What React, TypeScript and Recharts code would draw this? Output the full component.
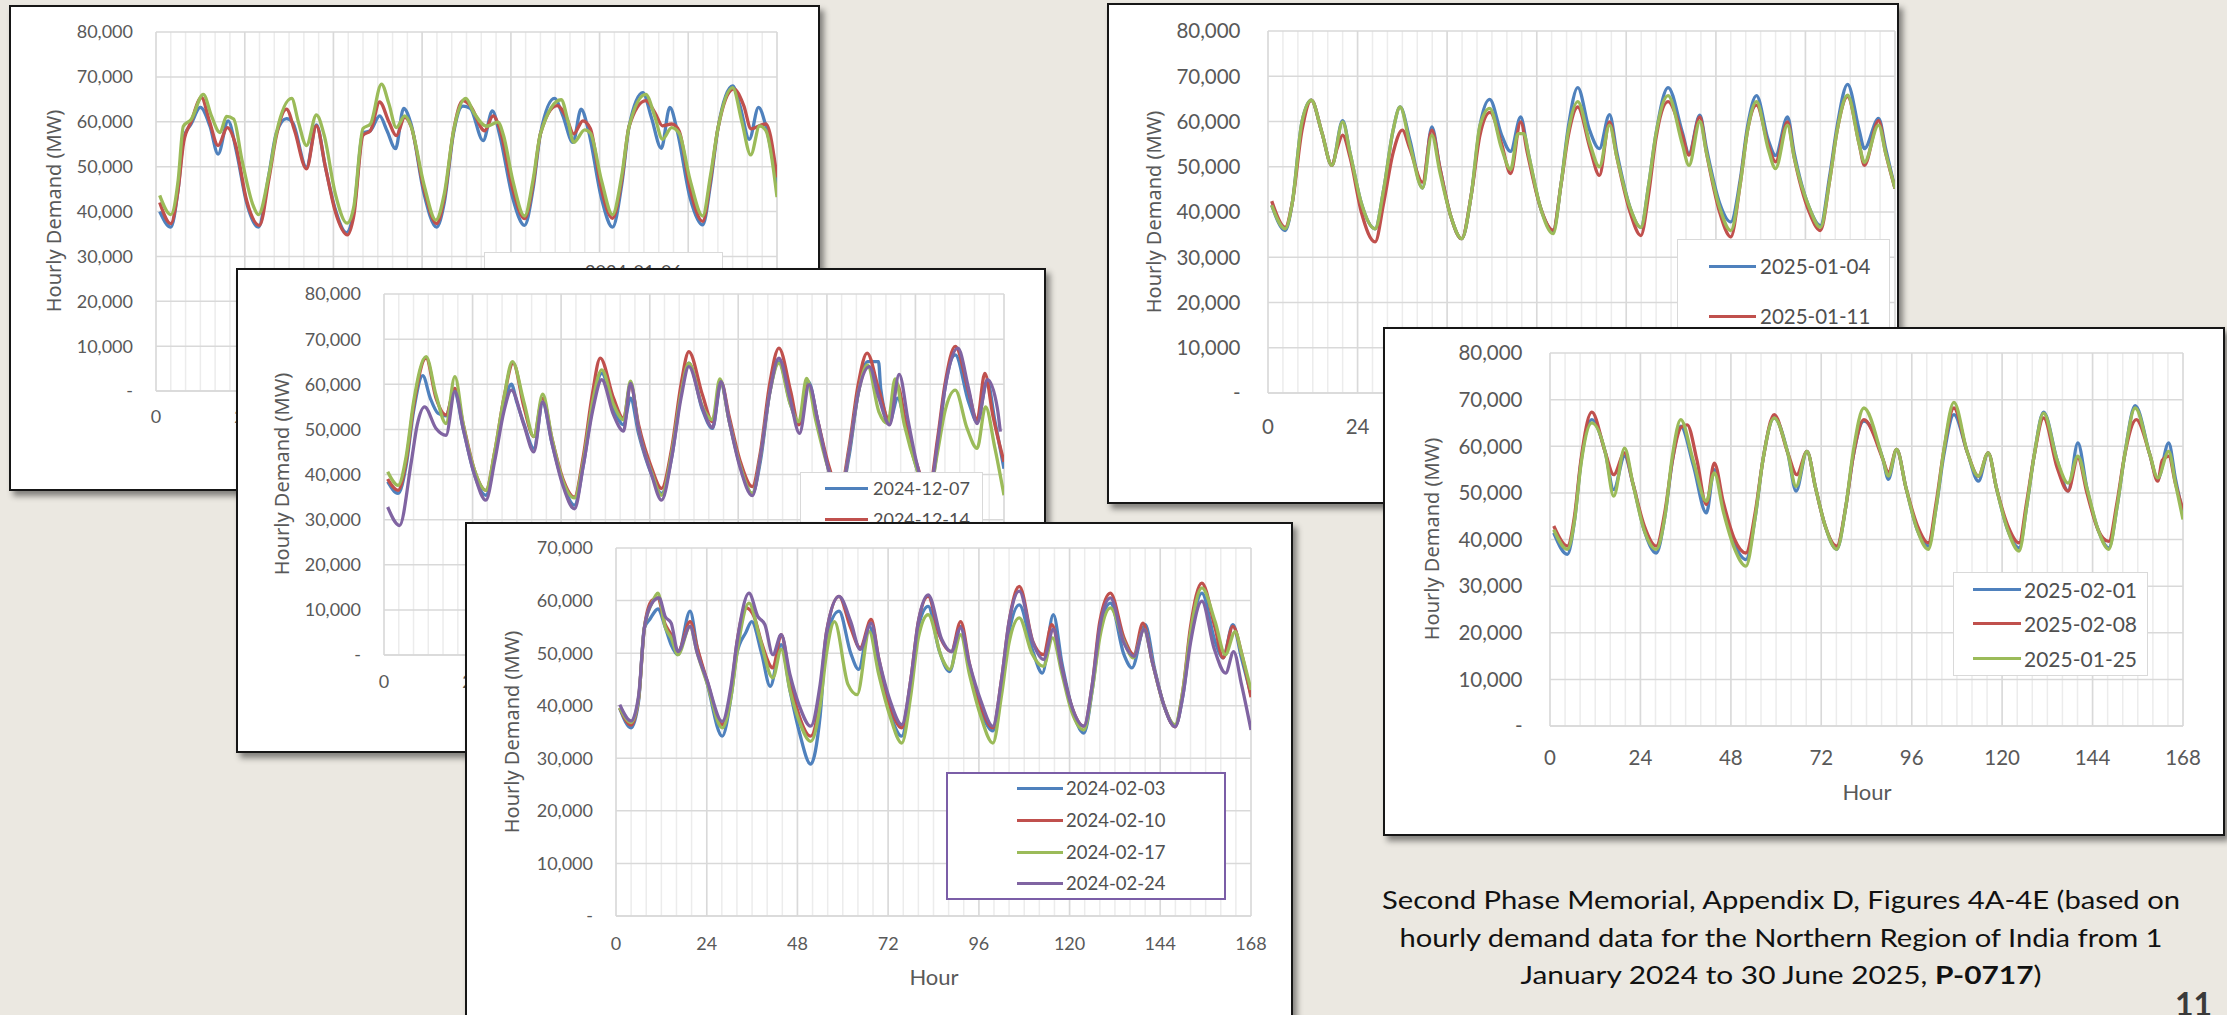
import React from 'react';
import { LineChart, Line, XAxis, YAxis, CartesianGrid } from 'recharts';

// [hour, demand in thousand MW]
type Pt = [number, number];

const BLUE = '#4f81bd';
const RED = '#c0504d';
const GREEN = '#9bbb59';
const PURPLE = '#8064a2';

const HOUR_TICKS = [0, 24, 48, 72, 96, 120, 144, 168];
const HOUR_MINOR = [0, 4, 8, 12, 16, 20, 24, 28, 32, 36, 40, 44, 48, 52, 56, 60, 64, 68, 72, 76, 80, 84, 88, 92, 96, 100, 104, 108, 112, 116, 120, 124, 128, 132, 136, 140, 144, 148, 152, 156, 160, 164, 168];
const Y_TICKS_80 = [0, 10000, 20000, 30000, 40000, 50000, 60000, 70000, 80000];
const Y_TICKS_70 = [0, 10000, 20000, 30000, 40000, 50000, 60000, 70000];

// ---------- Figure 4A: January 2024 weeks ----------
const w20240106: Pt[] = [
  [1, 40], [4, 36.5], [6, 45], [7.5, 56.5], [9.5, 59.5], [12, 63.2], [14.6, 59], [16.8, 52.8], [19.5, 60.2], [21.8, 53.2], [24.5, 42], [27.7, 36.5],
  [30.5, 48], [32.6, 57.6], [35.3, 60.7], [37, 59.8], [40.7, 49.9], [43.4, 59.3], [45.8, 50], [48.5, 40.5], [51.5, 35.3],
  [53.5, 40], [56, 57.5], [58, 58], [60.5, 61.3], [62.5, 58], [64.8, 54], [67, 63], [69, 59.5], [72.5, 44], [75.9, 36.5],
  [78, 42], [80.5, 57.5], [83, 63.5], [85, 63], [88.5, 55.8], [91, 62.4], [93, 57], [96.5, 43], [99.7, 36.9],
  [102, 45], [104, 57.3], [107.8, 65.2], [110, 61.5], [112.8, 55.4], [115, 62.8], [117, 58], [120.5, 43], [123.5, 36.5],
  [126, 46], [128, 59], [131.7, 66.5], [134, 61], [136.7, 54.1], [139, 63.2], [141, 58], [144.5, 43], [147.9, 37],
  [150, 46], [152, 58.4], [156, 68], [158, 63.5], [160.5, 56.1], [163, 63.2], [165, 59], [168, 46.1],
];
const w20240113: Pt[] = [
  [1, 42], [4, 37.3], [6, 45], [7.5, 55.5], [9.5, 60], [12.3, 65.4], [14.5, 60], [16.8, 54.7], [19.3, 58.7], [21.5, 55], [24.5, 42.5], [28, 36.9],
  [30.5, 47], [32.6, 57], [35.3, 62.8], [37.5, 58], [40.7, 49.5], [43.4, 59.1], [45.8, 50], [48.5, 40], [51.8, 34.8],
  [53.5, 39], [56, 57], [58, 58], [60.5, 64.4], [63, 60], [65, 56.9], [67.3, 61], [69, 59], [72.5, 45], [75.9, 37.3],
  [78, 43], [80.5, 58], [83, 64.7], [85, 63.6], [88.9, 58], [91.2, 61.3], [93, 58.5], [96.5, 45], [99.7, 38.4],
  [102, 46], [104, 57.3], [108.5, 63.6], [111, 61], [113, 57.3], [115.5, 60.2], [117.5, 58.5], [120.5, 45], [123.5, 38.5],
  [126, 47], [128, 59], [132.5, 64.7], [135, 62], [137, 59.1], [139.5, 59.5], [141.5, 58], [144.5, 45], [147.9, 37.8],
  [150, 47], [152, 58.4], [156.3, 67.3], [159, 63.6], [161, 58.4], [163.5, 59.2], [165, 59.5], [168, 47.6],
];
const w20240120: Pt[] = [
  [1, 43.6], [4, 39.3], [6, 47], [7.4, 59], [9.5, 60.5], [12.8, 66.1], [15, 61.3], [17.3, 57.6], [19.1, 61.2], [21, 60.6], [23.2, 51.7], [26.3, 41.3], [27.7, 39.3],
  [30.5, 48], [32.6, 57.6], [36.7, 65.2], [38.5, 60], [40.7, 54.7], [43.4, 61.5], [45.5, 57], [48.5, 44], [51.7, 37.4],
  [53.5, 41], [56, 58.5], [58, 59.5], [61, 68.4], [63, 64], [65, 58.7], [67.3, 61.3], [69, 59], [72.5, 46], [75.7, 38.1],
  [78, 44], [80.5, 58], [83.8, 65.2], [86, 62], [89.4, 59], [92.5, 59.9], [94, 57], [96.5, 47], [99.7, 39],
  [102, 47], [104, 57.3], [109.6, 64.9], [111.5, 60], [113, 55.4], [116, 58.2], [117.5, 57.5], [120.5, 47], [123.5, 39.3],
  [126, 48], [128, 59], [132.5, 66.1], [135, 61], [137, 56.1], [139.5, 58.7], [141.5, 57.5], [144.5, 47], [147.9, 39],
  [150, 48], [152, 58.4], [156, 67.6], [158.5, 60], [160.9, 52.6], [163.3, 59.1], [165, 58], [168, 43.2],
];

// ---------- Figure 4B: December 2024 weeks ----------
const w20241207: Pt[] = [
  [1, 38.4], [3.8, 35.8], [6, 42], [8, 54], [10.5, 61.9], [12.5, 57], [14.6, 53.6], [16.8, 53], [19, 58.4], [21.5, 50], [24.5, 40], [27.6, 35.4],
  [30, 44], [32.5, 55], [34.5, 60], [36, 56], [37.9, 51.3], [40.6, 45.8], [43, 55.8], [45.5, 47], [48.5, 38], [51.6, 33.2],
  [54, 42], [56.5, 55], [59, 62.4], [62.2, 54.7], [64.9, 51], [66.8, 56.9], [69, 49], [72.5, 40], [75.2, 35.8],
  [78, 44], [80.5, 58], [82.6, 64.7], [86.3, 54.3], [89, 50.2], [91.3, 60.2], [93.5, 52], [96.5, 42], [99.8, 35.8],
  [102, 43], [104.5, 58], [107, 65], [110.2, 55.4], [112.4, 51.3], [115, 60.6], [117.5, 52], [120.5, 41], [123.5, 35.3],
  [126, 44], [128.5, 58], [131, 65], [134, 65], [134.6, 59], [137, 51.7], [139.2, 56.9], [141.5, 50], [144.5, 41], [147.5, 35.3],
  [150, 46], [152, 59.1], [154.8, 66.5], [158.4, 56.1], [160.7, 51.7], [163.5, 60.6], [165.5, 52], [168, 41.3],
];
const w20241214: Pt[] = [
  [1, 39], [3.8, 36.5], [6, 43], [8, 55], [11.4, 65.8], [14.1, 56.9], [16.8, 53.2], [19.2, 59.1], [21.5, 51], [24.5, 41], [27.6, 36.5],
  [30, 45], [32.5, 57], [35, 64.7], [37.9, 55], [40.6, 48.4], [43, 56.9], [45.5, 48], [48.5, 39], [51.6, 35],
  [54, 44], [56.5, 58], [58.6, 65.8], [62.2, 56.9], [64.9, 52.4], [66.8, 59.9], [69, 51], [72.5, 41.5], [75.2, 36.9],
  [78, 46], [80.5, 60], [82.6, 67.2], [86.3, 57.6], [89, 51.7], [91.3, 60.6], [93.5, 53], [96.5, 43], [99.8, 37.3],
  [102, 45], [104.5, 60], [107, 68], [110.2, 58.4], [112.4, 51], [115, 59.9], [117.5, 52], [120.5, 42], [123.5, 36],
  [126, 46], [128.5, 60], [130.9, 66.9], [134.1, 58.7], [137, 51.7], [139, 60], [141.5, 51], [144.5, 42], [147.5, 36],
  [150, 48], [152, 60], [154.8, 68.4], [158.4, 58.4], [160.7, 52.1], [162.8, 62.4], [165, 53], [168, 42.8],
];
const w20241221: Pt[] = [
  [1, 40.6], [3.8, 37.6], [6, 44], [8, 56], [11.4, 66.1], [14.1, 57.6], [16.8, 51.3], [19.2, 61.7], [21.5, 51], [24.5, 41], [27.6, 36.5],
  [30, 45], [32.5, 57], [34.8, 65], [37.9, 56.1], [40.6, 48.4], [43, 57.8], [45.5, 48], [48.5, 38.5], [51.6, 34.8],
  [54, 43], [56.5, 56], [59, 63.2], [62.2, 55.5], [64.9, 52.1], [66.8, 60.7], [69, 50], [72.5, 40.5], [75.2, 35.4],
  [78, 45], [80.5, 58], [82.6, 64.7], [86.3, 55], [89, 52.1], [91, 61.2], [93.5, 52], [96.5, 42], [99.8, 35.8],
  [102, 44], [104.5, 58], [107, 64.7], [110, 55.8], [112.4, 51.7], [114.5, 61.3], [117, 52], [120.5, 41], [123.5, 35],
  [126, 45], [128.5, 58], [131, 64.3], [134.1, 53.9], [136.5, 51.3], [138.5, 61.2], [141, 51], [144.5, 41], [147.5, 35],
  [150, 45], [152, 54], [154.8, 58.7], [158, 50.2], [160.7, 45.8], [163, 55], [165.5, 46], [168, 35.4],
];
const w20241228: Pt[] = [
  [1, 32.8], [4.2, 28.7], [7.4, 42.8], [9, 51], [11, 55], [14.1, 50.2], [16.8, 48.7], [19.2, 58.4], [21.5, 50], [24.5, 40], [27.6, 34.3],
  [30, 43], [32.5, 54], [34.5, 58.7], [37.9, 51], [40.6, 45], [43, 56.1], [45.5, 47], [48.5, 37.5], [51.6, 32.4],
  [54, 42], [56.5, 54], [59, 61], [62.2, 53.2], [64.9, 49.6], [66.8, 60.2], [69, 50], [72.5, 40], [75.2, 34.3],
  [78, 44], [80.5, 57], [82.6, 63.9], [86.3, 54.7], [89, 50.4], [91.3, 60.6], [93.5, 52], [96.5, 41.5], [99.8, 35.3],
  [102, 44], [104.5, 58], [107, 65.8], [110, 56.9], [112.6, 49.1], [115.2, 59.9], [117.5, 52], [120.5, 41], [123.5, 35],
  [126, 45], [128.5, 58], [131.5, 63.9], [134.1, 57], [137, 51], [139.6, 62.2], [142, 52], [144.5, 42], [147.5, 35],
  [150, 47], [152, 59], [155.5, 68], [158.4, 59.1], [160.7, 51.3], [163.5, 61], [166.2, 54.7], [167, 49.5],
];

// ---------- Figure 4C: February 2024 weeks ----------
const w20240203: Pt[] = [
  [1, 39.5], [4, 35.8], [6, 41], [7.5, 54.8], [9, 56.5], [11.1, 58.4], [13, 55], [14.6, 51.6], [16.4, 49.7], [19.6, 58], [21.5, 51], [24, 44.6], [28.1, 34.2],
  [30.5, 42], [32, 50], [34.4, 54], [35.9, 56], [38.5, 50], [40.8, 43.7], [43.7, 51.6], [46, 43], [48.5, 35], [51.5, 28.9],
  [54, 38], [55.7, 52.9], [59, 58], [62.1, 50], [64.2, 46.9], [67, 55.1], [69.5, 47], [72.5, 38.5], [75.6, 34.2],
  [78, 44], [80, 55], [82.6, 58.9], [85.5, 50.5], [88.3, 46.5], [91.2, 55.1], [93.5, 47], [96.5, 39], [99.7, 35.2],
  [102, 44], [104, 54], [106.7, 59.2], [110.3, 50.3], [112.8, 46.2], [115.7, 57.3], [118, 48], [120.5, 40], [123.8, 34.8],
  [126, 43], [128, 54], [130.8, 59.5], [134.4, 49.7], [136.5, 47.2], [140, 55.4], [142.5, 47], [145, 40], [147.9, 36.1],
  [150, 42], [152, 53], [155, 61.4], [158.5, 52.2], [160.6, 49.1], [163.2, 55.4], [165.5, 49], [168, 42.1],
];
const w20240210: Pt[] = [
  [1, 39.6], [4, 36.3], [6, 41.5], [7.5, 54.8], [9.5, 60], [11, 60.5], [13, 55.5], [14.6, 53.5], [16.4, 50.3], [19.6, 56], [21.5, 51], [24, 45], [28.1, 36.4],
  [30.5, 43], [32, 52], [34.4, 58.6], [36.5, 57], [38.5, 52], [41.5, 47.2], [43.7, 53.5], [46, 45], [48.5, 38], [51.5, 34.2],
  [54, 42], [55.7, 54], [59, 60.8], [62, 55], [64.6, 51], [67.5, 56.4], [69.5, 49], [72.5, 40], [75.6, 35.8],
  [78, 45], [80, 56], [82.6, 60.8], [85.5, 53.5], [88.7, 50.3], [91.2, 56], [93.5, 48], [96.5, 40], [99.7, 35.8],
  [102, 45], [104, 56], [106.7, 62.7], [110.3, 52.2], [113.1, 49.7], [115.3, 55.4], [118, 47], [120.5, 40], [123.8, 36.1],
  [126, 44], [128, 56], [130.8, 61.4], [134.4, 52.9], [137, 49.7], [139.4, 55.7], [142, 48], [145, 40], [147.9, 36],
  [150, 43], [152, 55], [155, 63.3], [158.5, 54.8], [160.6, 49.1], [163.2, 55.1], [165.5, 50], [168, 41.6],
];
const w20240217: Pt[] = [
  [1, 39.6], [4, 36.8], [6, 41.5], [7.5, 54.8], [9.5, 59.5], [11.1, 61.4], [13, 55], [14.6, 52.9], [16.4, 49.7], [19.6, 55.1], [21.5, 50], [24, 44.5], [28.1, 35.8],
  [30.5, 42], [32, 50], [35.2, 59.5], [38, 53], [41.5, 45.3], [43.7, 50.7], [46, 43], [48.5, 37], [51.5, 33.2],
  [54, 40], [55.7, 50], [57.8, 56], [61.4, 44], [63.8, 42.1], [67, 54.1], [69.5, 46], [72.5, 38], [75.6, 32.9],
  [78, 42], [80, 53], [82.6, 57.3], [86.2, 49.1], [88.3, 46.9], [91.2, 53.5], [93.5, 46], [96.5, 38], [99.7, 32.9],
  [102, 42], [104, 52], [106.7, 56.7], [110, 50], [113.1, 47.5], [115.5, 52.9], [118, 46], [120.5, 39], [123.8, 35.4],
  [126, 43], [128, 53], [130.8, 58.6], [134.4, 52.2], [136.8, 49.1], [139.7, 54.5], [142, 48], [145, 40], [147.9, 36.4],
  [150, 43], [152, 54], [155, 62.4], [158.5, 56], [161.2, 49.7], [163.8, 54.1], [165.5, 50], [168, 43],
];
const w20240224: Pt[] = [
  [1, 40.2], [4, 37.1], [6, 42], [7.5, 54.8], [9.5, 59.5], [11.4, 60.5], [13, 57], [14.6, 55.7], [16.4, 50.3], [19.6, 55.1], [21.5, 50], [24, 45], [28.1, 37],
  [30.5, 44], [32, 52], [35.2, 61.4], [37.5, 57], [39.4, 55.4], [41.5, 49.7], [43.7, 53.5], [46, 46], [48.5, 40], [51.5, 36.1],
  [54, 44], [55.7, 54], [59, 60.8], [62.1, 56], [64.6, 50.7], [67.5, 55.7], [69.5, 49], [72.5, 41], [75.6, 36.4],
  [78, 45], [80, 56], [82.6, 61.1], [86.2, 52.6], [88.7, 50.3], [91.2, 54.8], [93.5, 48], [96.5, 41], [99.7, 36.1],
  [102, 45], [104, 56], [106.7, 61.8], [110.3, 52], [113.1, 48.8], [115.7, 54.5], [118, 47], [120.5, 40], [123.8, 36.1],
  [126, 44], [128, 55], [130.8, 60.5], [134.4, 51.9], [137, 49.4], [139.7, 54.5], [142, 48], [145, 40], [147.9, 36],
  [150, 42], [152, 52], [155, 59.9], [158.2, 51], [161.3, 46.2], [163.4, 50.3], [165.5, 44], [168, 35.4],
];

// ---------- Figure 4D: January 2025 weeks ----------
const w20250104: Pt[] = [
  [1, 41.5], [4.6, 35.9], [6.5, 42], [9.1, 59.9], [11.6, 64.7], [14.4, 57.7], [17.1, 50.3], [20, 60.2], [22, 53], [25, 42], [28.7, 36.3],
  [31, 45], [33.5, 58], [35.4, 63.2], [38, 56], [41.4, 45.3], [43.9, 58.8], [46, 50], [49, 39], [51.9, 34.1],
  [54.5, 44], [56.8, 59.1], [59.4, 64.9], [62.6, 57], [65, 53.4], [67.7, 61], [69.5, 54], [73, 41], [76.4, 35.9],
  [78.5, 46], [80.5, 59], [83, 67.5], [86, 58.5], [88.8, 54], [91.5, 61.5], [93.5, 53], [97, 41], [99.9, 36.6],
  [102, 46], [103.9, 57], [107.2, 67.5], [111, 57.7], [112.8, 52.9], [115.7, 61.4], [117.5, 54], [121, 42], [124, 37.8],
  [126.5, 47], [128.5, 59], [130.9, 65.7], [134, 56], [136, 52.5], [139.2, 61], [141, 53], [145, 41], [148, 37],
  [150.5, 48], [152.5, 59], [155.3, 68.2], [158.4, 58.1], [159.8, 54], [163.6, 60.7], [165.5, 54], [168, 45.2],
];
const w20250111: Pt[] = [
  [1, 42.4], [4.6, 36.6], [6.5, 42], [9.1, 58], [11.6, 64.7], [14.4, 57.7], [17.1, 50.3], [18.5, 54], [20, 57], [22, 52], [25, 40], [28.7, 33.4],
  [31, 42], [33.5, 53], [36, 58.1], [38, 54], [41.4, 46.6], [43.9, 58.1], [46, 50], [49, 39], [51.9, 34.1],
  [54.5, 44], [56.8, 57], [59.5, 62], [62.6, 55], [65, 48.5], [67.7, 59.9], [69.5, 53], [73, 41], [76.4, 36],
  [78.5, 46], [80.5, 57], [83, 63.2], [86.3, 54], [88.8, 48.1], [91.5, 59.9], [93.5, 52], [97, 40], [99.9, 34.8],
  [102, 44], [103.9, 56], [107.2, 64.4], [111, 57], [112.8, 52.6], [115.7, 61], [117.5, 53], [121, 40], [124, 34.5],
  [126.5, 46], [128.5, 58], [130.9, 63.6], [134, 55], [136, 51.1], [139.2, 59.9], [141, 52], [145, 40], [148, 35.9],
  [150.5, 47], [152.5, 58], [155.3, 65.5], [158.4, 55], [159.8, 50.3], [163.6, 60.2], [165.5, 53], [168, 45.2],
];
const w20250118: Pt[] = [
  [1, 41.5], [4.6, 36.3], [6.5, 42], [9.1, 59.9], [11.6, 64.7], [14.4, 57.7], [17.1, 50.3], [20, 59.9], [22, 53], [25, 42], [28.7, 36.3],
  [31, 45], [33.5, 58], [35.4, 63.2], [38, 55], [41.4, 45.3], [43.9, 57], [46, 49], [49, 39], [51.9, 34.1],
  [54.5, 44], [56.8, 59.1], [59.4, 62.9], [62.6, 54], [65, 49.4], [67, 57.3], [68.5, 57.3], [70, 52], [73, 41], [76.4, 35.2],
  [78.5, 46], [80.5, 58], [83, 64.4], [86.3, 55], [88.8, 50], [91.5, 59.2], [93.5, 52], [97, 41], [99.9, 36.6],
  [102, 46], [103.9, 57], [107.2, 65.7], [111, 55], [112.8, 50.3], [115.7, 60], [117.5, 53], [121, 41], [124, 35.9],
  [126.5, 46], [128.5, 58], [130.9, 64.4], [134, 54], [136, 49.6], [139.2, 59.2], [141, 52], [145, 41], [148, 36.6],
  [150.5, 47], [152.5, 58], [155.3, 65.8], [158.4, 55], [159.8, 51], [163.6, 59.2], [165.5, 53], [168, 45.2],
];

// ---------- Figure 4E: late January / February 2025 weeks ----------
const w20250201: Pt[] = [
  [1, 41.4], [4.6, 36.8], [6.5, 44], [8.2, 56.4], [11.1, 65.7], [14.7, 58.6], [16.9, 50.7], [19.8, 57.9], [22, 52], [25, 42], [28.2, 37.1],
  [30.5, 45], [32.5, 57], [34.7, 64.3], [38, 56], [41.5, 45.7], [43.6, 55], [46, 47], [49, 39], [52, 35.7],
  [54.5, 45], [56.5, 57], [59.5, 66.1], [63.1, 58.6], [65.3, 50.4], [68.2, 58.9], [70.5, 51], [73, 43], [76.1, 37.9],
  [78.5, 47], [80.5, 58], [83.3, 65.4], [88.4, 57.1], [89.8, 52.9], [92, 59.3], [94.5, 51], [97.5, 42], [100.4, 38.6],
  [102.5, 47], [104.5, 58], [107.2, 66.8], [110.8, 58.6], [113.7, 52.5], [116.3, 58.6], [118.5, 51], [121.5, 42], [124.5, 38.2],
  [126.5, 47], [128.5, 58], [131, 67.3], [134.6, 57], [137.5, 50.4], [140.1, 60.7], [142.5, 51], [145.5, 42], [148.3, 38.2],
  [150.5, 47], [152.5, 58], [155.3, 68.7], [159.2, 58.2], [161.3, 52.9], [164.2, 60.7], [166, 53], [168, 45.4],
];
const w20250208: Pt[] = [
  [1, 42.9], [4.6, 38.6], [6.5, 45], [8.2, 57], [11.1, 67.3], [14.7, 58.6], [16.9, 53.9], [19.8, 58.6], [22, 52], [25, 43], [28.2, 38.6],
  [30.5, 46], [32.5, 57], [34.7, 64], [36.4, 64.6], [39, 57], [41.5, 47.5], [43.6, 56.4], [46, 48], [49, 40], [52, 37.1],
  [54.5, 46], [56.5, 57], [59.5, 66.8], [63.1, 58.6], [65.5, 53.9], [68.2, 58.9], [70.5, 51], [73, 43], [76.1, 38.6],
  [78.5, 47], [80.5, 58], [83.3, 65.7], [88.4, 57.1], [89.8, 54.3], [92, 59.3], [94.5, 51], [97.5, 43], [100.4, 39.3],
  [102.5, 48], [104.5, 59], [107.2, 68.2], [110.8, 58.6], [113.7, 53.6], [116.3, 58.6], [118.5, 51], [121.5, 43], [124.5, 39.3],
  [126.5, 48], [128.5, 58], [131, 66.1], [134.6, 55.4], [137.5, 50.4], [140.1, 57.5], [142.5, 50], [145.5, 42], [148.3, 39.6],
  [150.5, 48], [152.5, 58], [155.6, 65.7], [159.2, 58.2], [161.3, 52.5], [162.5, 57], [164.2, 57.9], [166, 52], [168, 46.4],
];
const w20250125: Pt[] = [
  [1, 42.1], [4.6, 37.9], [6.5, 44], [8.2, 56], [11.1, 65], [14.7, 58.6], [16.9, 49.3], [19.8, 59.6], [22, 52], [25, 42], [28.2, 37.9],
  [30.5, 45], [32.5, 58], [34.7, 65.7], [38, 57], [41.5, 48.2], [43.6, 54.3], [46, 46], [49, 38], [52, 34.3],
  [54.5, 45], [56.5, 57], [59.5, 66.1], [63.1, 58.6], [65.3, 51.4], [68.2, 58.9], [70.5, 51], [73, 43], [76.1, 37.9],
  [78.5, 47], [80.5, 59], [83.3, 68.2], [88.4, 57.1], [89.8, 53.6], [92, 59.3], [94.5, 51], [97.5, 42], [100.4, 37.9],
  [102.5, 47], [104.5, 59], [107.2, 69.4], [110.8, 58.6], [113.7, 53.6], [116.3, 58.6], [118.5, 51], [121.5, 42], [124.5, 37.5],
  [126.5, 47], [128.5, 58], [131, 67.1], [134.6, 57], [137.5, 52.1], [140.1, 57.9], [142.5, 51], [145.5, 42], [148.3, 37.9],
  [150.5, 47], [152.5, 58], [155.3, 68.2], [159.2, 58.2], [161.3, 53.2], [164.2, 58.9], [166, 52], [168, 44.3],
];

// ---------- layout ----------
interface Box { x: number; y: number; w: number; h: number }
interface Plot { l: number; t: number; r: number; b: number }
interface Series { name: string; color: string; pts: Pt[] }
interface LegendSpec { box: Box; rows: number[]; x1: number; x2: number; tx: number; font: number; border: string; borderW: number }
interface PanelSpec {
  frame: Box; plot: Plot; yMax: number; yTicks: number[]; font: number; yGap: number; xGap: number;
  title: [number, number]; hour: [number, number]; hourFont: number; series: Series[]; legend: LegendSpec;
}

const BORDER = 2;
const Y_AXIS_W = 100;
const X_AXIS_H = 50;
const TICK_FONT = "Lato, 'Liberation Sans', sans-serif";
const TEXT_GREY = '#595959';

const panels: PanelSpec[] = [
  {
    frame: { x: 9, y: 5, w: 811, h: 486 }, plot: { l: 156, t: 32, r: 777, b: 391 },
    yMax: 80000, yTicks: Y_TICKS_80, font: 18, yGap: 23, xGap: 19, title: [54, 211], hour: [466, 455], hourFont: 21,
    series: [
      { name: '2024-01-06', color: BLUE, pts: w20240106 },
      { name: '2024-01-13', color: RED, pts: w20240113 },
      { name: '2024-01-20', color: GREEN, pts: w20240120 },
    ],
    legend: { box: { x: 484, y: 252, w: 239, h: 100 }, rows: [271, 302, 333], x1: 532, x2: 578, tx: 585, font: 18, border: '#d9d9d9', borderW: 1.5 },
  },
  {
    frame: { x: 236, y: 268, w: 810, h: 485 }, plot: { l: 384, t: 294, r: 1004, b: 655 },
    yMax: 80000, yTicks: Y_TICKS_80, font: 18, yGap: 23, xGap: 20, title: [282, 474], hour: [694, 718], hourFont: 21,
    series: [
      { name: '2024-12-07', color: BLUE, pts: w20241207 },
      { name: '2024-12-14', color: RED, pts: w20241214 },
      { name: '2024-12-21', color: GREEN, pts: w20241221 },
      { name: '2024-12-28', color: PURPLE, pts: w20241228 },
    ],
    legend: { box: { x: 800, y: 472, w: 183, h: 130 }, rows: [488, 519, 550, 581], x1: 825, x2: 868, tx: 873, font: 18, border: '#d9d9d9', borderW: 1.5 },
  },
  {
    frame: { x: 465, y: 522, w: 828, h: 503 }, plot: { l: 616, t: 548, r: 1251, b: 916 },
    yMax: 70000, yTicks: Y_TICKS_70, font: 18, yGap: 23, xGap: 21, title: [512, 732], hour: [934, 977], hourFont: 22,
    series: [
      { name: '2024-02-03', color: BLUE, pts: w20240203 },
      { name: '2024-02-10', color: RED, pts: w20240210 },
      { name: '2024-02-17', color: GREEN, pts: w20240217 },
      { name: '2024-02-24', color: PURPLE, pts: w20240224 },
    ],
    legend: { box: { x: 946, y: 772, w: 280, h: 128 }, rows: [788, 820, 852, 883], x1: 1017, x2: 1063, tx: 1066, font: 18.5, border: '#7b5ea7', borderW: 2 },
  },
  {
    frame: { x: 1107, y: 3, w: 792, h: 501 }, plot: { l: 1268, t: 31, r: 1895, b: 393 },
    yMax: 80000, yTicks: Y_TICKS_80, font: 20.5, yGap: 27.5, xGap: 26, title: [1154, 212], hour: [1581, 465], hourFont: 22,
    series: [
      { name: '2025-01-04', color: BLUE, pts: w20250104 },
      { name: '2025-01-11', color: RED, pts: w20250111 },
      { name: '2025-01-18', color: GREEN, pts: w20250118 },
    ],
    legend: { box: { x: 1677, y: 239, w: 213, h: 160 }, rows: [266, 316, 366], x1: 1709, x2: 1756, tx: 1760, font: 20.5, border: '#d9d9d9', borderW: 1.5 },
  },
  {
    frame: { x: 1383, y: 327, w: 842, h: 509 }, plot: { l: 1550, t: 353, r: 2183, b: 726 },
    yMax: 80000, yTicks: Y_TICKS_80, font: 20.5, yGap: 27.5, xGap: 24, title: [1432, 539], hour: [1867, 792], hourFont: 22,
    series: [
      { name: '2025-02-01', color: BLUE, pts: w20250201 },
      { name: '2025-02-08', color: RED, pts: w20250208 },
      { name: '2025-01-25', color: GREEN, pts: w20250125 },
    ],
    legend: { box: { x: 1953, y: 572, w: 195, h: 104 }, rows: [589, 623, 658], x1: 1973, x2: 2021, tx: 2024, font: 21, border: '#d9d9d9', borderW: 1.5 },
  },
];

const toRows = (pts: Pt[]) => pts.map(([hour, k]) => ({ hour, mw: k * 1000 }));
const fmtY = (v: number) => (v === 0 ? '-' : v.toLocaleString('en-US'));

function Panel({ p }: { p: PanelSpec }) {
  const ox = p.frame.x + BORDER;
  const oy = p.frame.y + BORDER;
  const W = p.frame.w - 2 * BORDER;
  const H = p.frame.h - 2 * BORDER;
  const margin = {
    left: p.plot.l - ox - Y_AXIS_W,
    top: p.plot.t - oy,
    right: ox + W - p.plot.r,
    bottom: oy + H - p.plot.b - X_AXIS_H,
  };
  const tick = { fontSize: p.font, fontFamily: TICK_FONT, fill: TEXT_GREY };
  const lg = p.legend;
  return (
    <div
      style={{
        position: 'absolute', left: p.frame.x, top: p.frame.y, width: p.frame.w, height: p.frame.h,
        boxSizing: 'border-box', border: `${BORDER}px solid #161616`, background: '#ffffff',
        boxShadow: '4px 5px 6px rgba(0,0,0,0.45)', overflow: 'hidden',
      }}
    >
      <LineChart width={W} height={H} margin={margin}>
        <XAxis xAxisId="minor" dataKey="hour" type="number" domain={[0, 168]} ticks={HOUR_MINOR} interval={0} hide allowDataOverflow />
        <XAxis
          dataKey="hour" type="number" domain={[0, 168]} ticks={HOUR_TICKS} interval={0}
          tickSize={0} tickMargin={p.xGap} height={X_AXIS_H} tickLine={false}
          axisLine={{ stroke: '#d9d9d9', strokeWidth: 1.5 }} tick={tick} allowDataOverflow
        />
        <YAxis
          type="number" domain={[0, p.yMax]} ticks={p.yTicks} interval={0} width={Y_AXIS_W}
          tickSize={0} tickMargin={p.yGap} axisLine={false} tickLine={false} tick={tick}
          tickFormatter={fmtY} allowDataOverflow
        />
        <CartesianGrid xAxisId="minor" horizontal={false} stroke="#ececec" strokeWidth={1.5} />
        <CartesianGrid stroke="#d9d9d9" strokeWidth={1.5} />
        {p.series.map((s) => (
          <Line
            key={s.name} data={toRows(s.pts)} dataKey="mw" name={s.name} type="monotone"
            stroke={s.color} strokeWidth={3.3} dot={false} activeDot={false} isAnimationActive={false}
          />
        ))}
      </LineChart>

      <div
        style={{
          position: 'absolute', left: p.title[0] - ox, top: p.title[1] - oy,
          transform: 'translate(-50%, -50%) rotate(-90deg)', whiteSpace: 'nowrap',
          fontFamily: "'Noto Sans', sans-serif", fontSize: 20, color: TEXT_GREY, lineHeight: 1,
        }}
      >
        Hourly Demand (MW)
      </div>

      <div
        style={{
          position: 'absolute', left: p.hour[0] - ox, top: p.hour[1] - oy,
          transform: 'translate(-50%, -50%)', whiteSpace: 'nowrap',
          fontFamily: TICK_FONT, fontSize: p.hourFont, color: TEXT_GREY, lineHeight: 1,
        }}
      >
        Hour
      </div>

      <div
        style={{
          position: 'absolute', left: lg.box.x - ox, top: lg.box.y - oy, width: lg.box.w, height: lg.box.h,
          boxSizing: 'border-box', background: '#ffffff', border: `${lg.borderW}px solid ${lg.border}`,
        }}
      />
      {p.series.map((s, i) => (
        <React.Fragment key={s.name}>
          <div
            style={{
              position: 'absolute', left: lg.x1 - ox, top: lg.rows[i] - oy - 1.5,
              width: lg.x2 - lg.x1, height: 3, background: s.color,
            }}
          />
          <div
            style={{
              position: 'absolute', left: lg.tx - ox, top: lg.rows[i] - oy, transform: 'translateY(-50%)',
              fontFamily: TICK_FONT, fontSize: lg.font, color: '#505050', lineHeight: 1, whiteSpace: 'nowrap',
            }}
          >
            {s.name}
          </div>
        </React.Fragment>
      ))}
    </div>
  );
}

export default function App() {
  return (
    <div
      style={{
        position: 'fixed', left: 0, top: 0, width: 2227, height: 1015, overflow: 'hidden',
        background: '#ebe8e1',
      }}
    >
      {panels.map((p, i) => (
        <Panel key={i} p={p} />
      ))}

      <svg width={900} height={140} style={{ position: 'absolute', left: 1331, top: 880 }}>
        <g fontFamily="Lato, 'Noto Sans', sans-serif" fontSize={24.5} fill="#111111" textAnchor="middle">
          <text x={450} y={29} textLength={798} lengthAdjust="spacingAndGlyphs">
            Second Phase Memorial, Appendix D, Figures 4A-4E (based on
          </text>
          <text x={450} y={66.5} textLength={763} lengthAdjust="spacingAndGlyphs">
            hourly demand data for the Northern Region of India from 1
          </text>
          <text x={450} y={103.5} textLength={521} lengthAdjust="spacingAndGlyphs">
            January 2024 to 30 June 2025, <tspan fontWeight={700}>P-0717</tspan>)
          </text>
        </g>
        <text x={881} y={136} fontFamily="Lato, sans-serif" fontWeight={700} fontSize={32} fill="#3a3a3a" textAnchor="end">
          11
        </text>
      </svg>
    </div>
  );
}
